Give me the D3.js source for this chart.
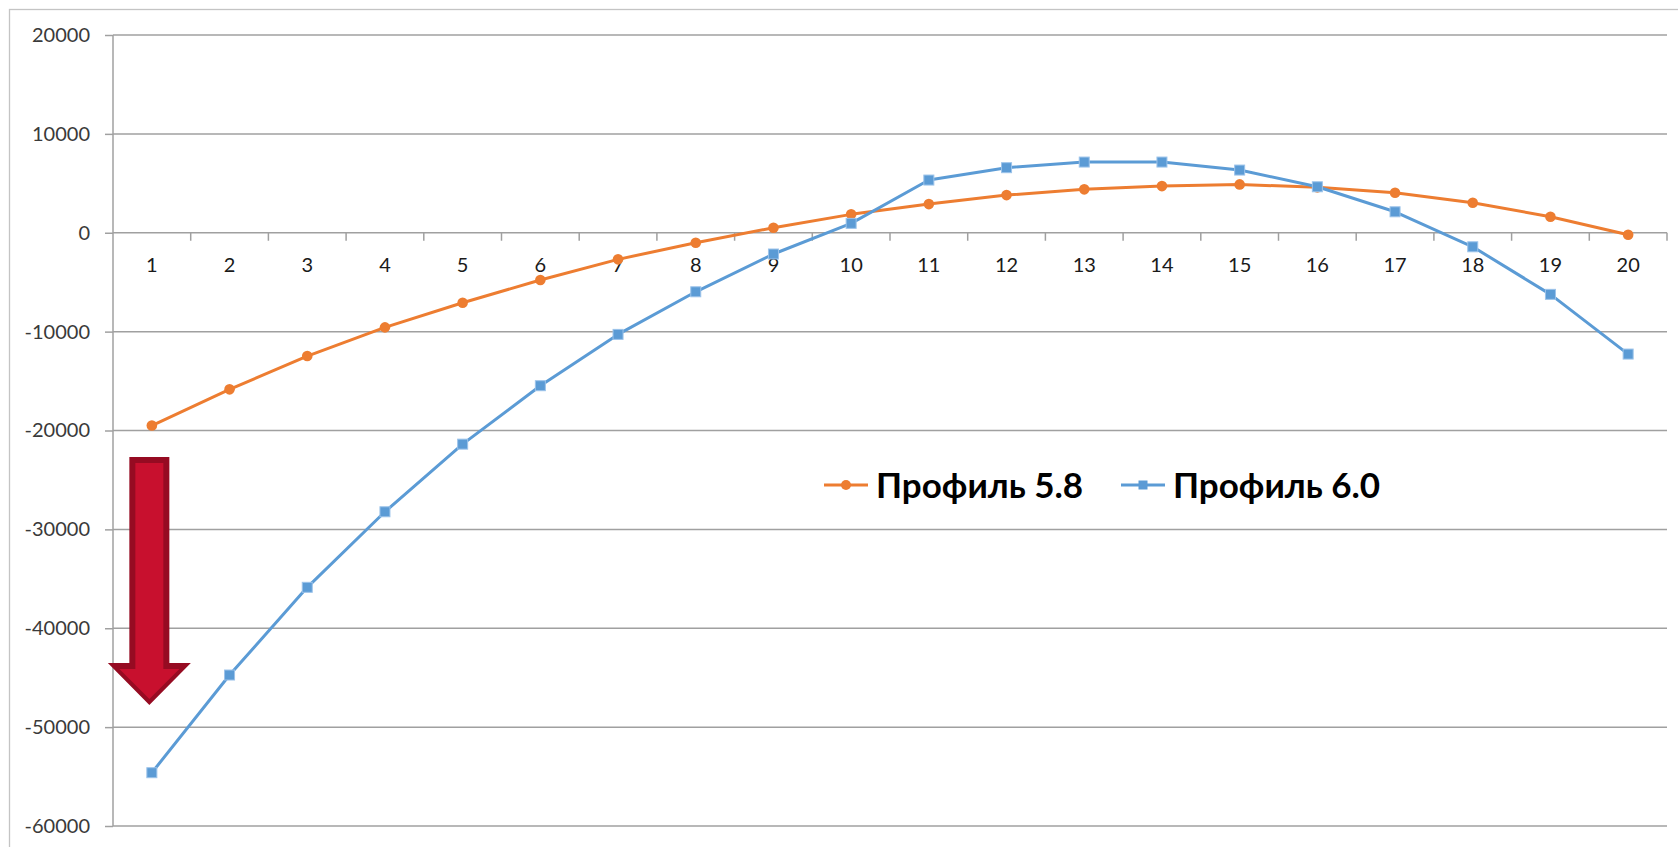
<!DOCTYPE html>
<html>
<head>
<meta charset="utf-8">
<script src="https://cdn.jsdelivr.net/npm/d3@7"></script>
<style>
  html, body { margin: 0; padding: 0; background: #fff; }
  svg { display: block; }
</style>
</head>
<body>
<svg id="chart" width="1678" height="847"></svg>
<script>
// Categories along the x axis
const categories = d3.range(1, 21);

// Series values
const profile58 = [-19500, -15840, -12470, -9570, -7080, -4780, -2690, -1010, 510, 1860,
                   2900, 3810, 4390, 4720, 4890, 4590, 4050, 3030, 1620, -200];
const profile60 = [-54610, -44730, -35860, -28220, -21380, -15470, -10280, -5970, -2150, 950,
                   5330, 6580, 7150, 7150, 6340, 4650, 2120, -1420, -6230, -12270];

const seriesNames = ["Профиль 5.8", "Профиль 6.0"];
const yTicks = [20000, 10000, 0, -10000, -20000, -30000, -40000, -50000, -60000];

const W = 1678, H = 847;
const plot = { left: 113, right: 1667, top: 35, bottom: 826 };

const svg = d3.select("#chart");
const font = "Lato, 'Open Sans', sans-serif";

// Outer chart frame
svg.append("rect")
  .attr("x", 9.5).attr("y", 9.5)
  .attr("width", W + 20).attr("height", H + 20)
  .attr("fill", "none").attr("stroke", "#c4c4c4").attr("stroke-width", 1.3);

const x = d3.scaleBand().domain(categories).range([plot.left, plot.right]).paddingInner(0).paddingOuter(0);
const y = d3.scaleLinear().domain([-60000, 20000]).range([plot.bottom, plot.top]);
const cx = d => x(d) + x.bandwidth() / 2;

// Horizontal gridlines with short ticks to the left of the axis
const yAxis = d3.axisLeft(y).tickValues(yTicks).tickSize(8).tickPadding(15).tickFormat(d3.format("d"));
const gy = svg.append("g").attr("transform", `translate(${plot.left},0)`).call(yAxis);
gy.select(".domain").remove();
gy.selectAll(".tick line").attr("stroke", "#a0a0a0").attr("stroke-width", 1.5);
gy.selectAll(".tick text")
  .attr("fill", "#3a3a3a").style("font-family", font).style("font-size", "20px")
  .text(d => d < 0 ? "-" + Math.abs(d) : d);

svg.append("g").selectAll("line.grid").data(yTicks).join("line")
  .attr("x1", plot.left).attr("x2", plot.right)
  .attr("y1", d => y(d)).attr("y2", d => y(d))
  .attr("stroke", "#a0a0a0").attr("stroke-width", 1.5);

// Vertical value axis line
svg.append("line")
  .attr("x1", plot.left).attr("x2", plot.left)
  .attr("y1", plot.top).attr("y2", plot.bottom)
  .attr("stroke", "#a0a0a0").attr("stroke-width", 1.5);

// Category axis sits on the zero line
const xAxis = d3.axisBottom(x).tickSize(0).tickPadding(0);
const gx = svg.append("g").attr("transform", `translate(0,${y(0)})`).call(xAxis);
gx.select(".domain").remove();
gx.selectAll(".tick text")
  .attr("fill", "#1a1a1a").attr("y", 39).attr("dy", 0)
  .style("font-family", font).style("font-size", "20px");

// Category boundary tick marks
const boundaries = d3.range(0, categories.length + 1).map(i => plot.left + i * x.bandwidth());
svg.append("g").selectAll("line").data(boundaries.slice(1)).join("line")
  .attr("x1", d => d).attr("x2", d => d)
  .attr("y1", y(0)).attr("y2", y(0) + 8)
  .attr("stroke", "#a0a0a0").attr("stroke-width", 1.5);

// Series lines and markers
const line = d3.line().x((d, i) => cx(categories[i])).y(d => y(d));

const orange = "#ED7D31", blue = "#5B9BD5";

svg.append("path").datum(profile58)
  .attr("d", line).attr("fill", "none").attr("stroke", orange)
  .attr("stroke-width", 3).attr("stroke-linejoin", "round");

svg.append("path").datum(profile60)
  .attr("d", line).attr("fill", "none").attr("stroke", blue)
  .attr("stroke-width", 3).attr("stroke-linejoin", "round");

svg.append("g").selectAll("circle").data(profile58).join("circle")
  .attr("cx", (d, i) => cx(categories[i])).attr("cy", d => y(d))
  .attr("r", 5.3).attr("fill", orange);

const sq = 10;
svg.append("g").selectAll("rect").data(profile60).join("rect")
  .attr("x", (d, i) => cx(categories[i]) - sq / 2).attr("y", d => y(d) - sq / 2)
  .attr("width", sq).attr("height", sq)
  .attr("fill", blue).attr("stroke", "#9cc3ea").attr("stroke-width", 1);

// Legend
const legend = svg.append("g");
const legendItems = [
  { name: seriesNames[0], color: orange, x0: 824, marker: "circle" },
  { name: seriesNames[1], color: blue, x0: 1121, marker: "square" }
];
const ly = 485;
legendItems.forEach(it => {
  legend.append("line")
    .attr("x1", it.x0).attr("x2", it.x0 + 44).attr("y1", ly).attr("y2", ly)
    .attr("stroke", it.color).attr("stroke-width", 3);
  if (it.marker === "circle") {
    legend.append("circle").attr("cx", it.x0 + 22).attr("cy", ly).attr("r", 5).attr("fill", it.color);
  } else {
    legend.append("rect").attr("x", it.x0 + 17.5).attr("y", ly - 4.5).attr("width", 9).attr("height", 9)
      .attr("fill", it.color);
  }
  legend.append("text")
    .attr("x", it.x0 + 52).attr("y", ly + 12.5)
    .style("font-family", font).style("font-weight", "bold").style("font-size", "35px")
    .attr("fill", "#000").text(it.name);
});

// Downward arrow beside the first category
const ax = cx(categories[0]) - 2.5;
const arrowOuter = [
  [ax - 20, 457], [ax + 20, 457], [ax + 20, 663], [ax + 41.5, 663],
  [ax, 705], [ax - 41.5, 663], [ax - 20, 663]
];
const arrowInner = [
  [ax - 14, 463], [ax + 14, 463], [ax + 14, 669], [ax + 30, 669],
  [ax, 699], [ax - 30, 669], [ax - 14, 669]
];
const poly = d3.line().curve(d3.curveLinearClosed);
svg.append("path").attr("d", poly(arrowOuter)).attr("fill", "#960b22");
svg.append("path").attr("d", poly(arrowInner)).attr("fill", "#c8102e");
</script>
</body>
</html>
